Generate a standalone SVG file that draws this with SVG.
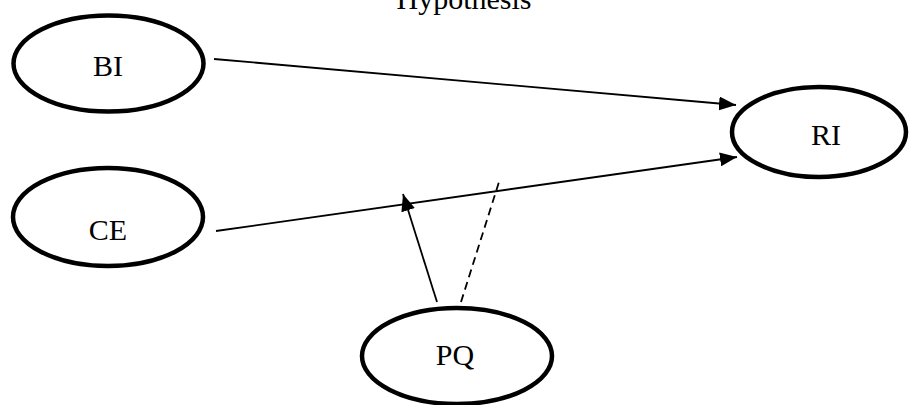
<svg xmlns="http://www.w3.org/2000/svg" width="912" height="405" viewBox="0 0 912 405">
<style>
.node ellipse{fill:#fff;stroke:#000;stroke-width:4.5}
text{font-family:"Liberation Serif","Times New Roman",serif;font-size:30px;fill:#000;text-anchor:middle}
.conn line{stroke:#000;stroke-width:1.8;fill:none}
.dash{stroke-dasharray:8,5}
</style>
<defs>
<marker id="ah" markerUnits="userSpaceOnUse" markerWidth="17" markerHeight="14" refX="17" refY="7" orient="auto">
<path d="M0,0 L17,7 L0,14 Z" fill="#000"/>
</marker>
</defs>
<rect width="912" height="405" fill="#fff"/>
<text x="464" y="9">Hypothesis</text>
<g class="conn" id="connectors">
<line x1="214" y1="59" x2="736" y2="105" marker-end="url(#ah)"/>
<line x1="216" y1="231" x2="737" y2="157" marker-end="url(#ah)"/>
<line x1="437" y1="302" x2="403" y2="194" marker-end="url(#ah)"/>
<line class="dash" x1="461" y1="302" x2="499" y2="182"/>
</g>
<g class="node" id="BI"><ellipse cx="108.5" cy="63.5" rx="95" ry="48"/><text x="108" y="76">BI</text></g>
<g class="node" id="CE"><ellipse cx="108" cy="217" rx="95" ry="49"/><text x="108" y="240">CE</text></g>
<g class="node" id="RI"><ellipse cx="819" cy="132" rx="87" ry="45"/><text x="826" y="145">RI</text></g>
<g class="node" id="PQ"><ellipse cx="457" cy="356" rx="95" ry="48"/><text x="455" y="365">PQ</text></g>
</svg>
